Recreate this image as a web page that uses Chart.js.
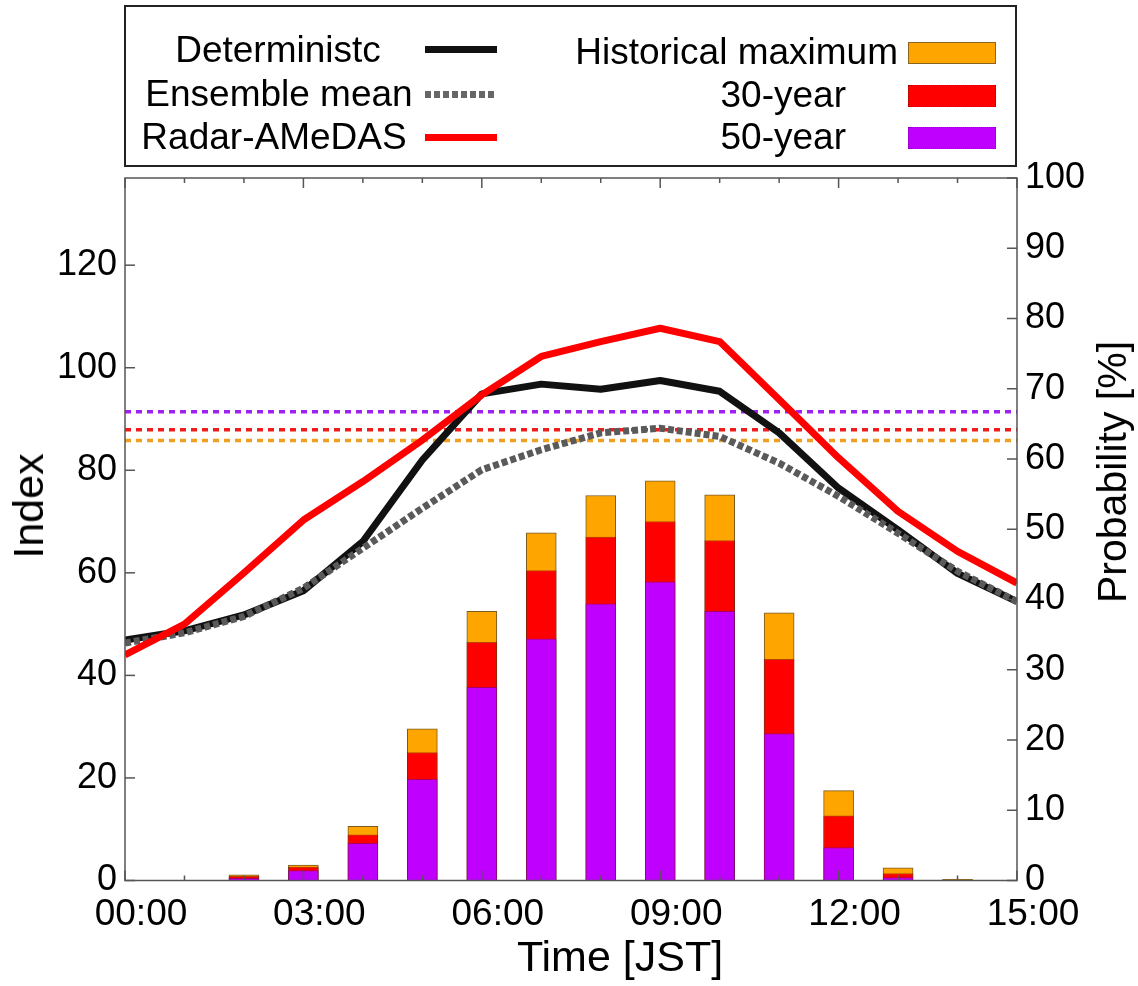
<!DOCTYPE html>
<html>
<head>
<meta charset="utf-8">
<script src="https://cdn.jsdelivr.net/npm/chart.js@4.4.0/dist/chart.umd.min.js"></script>
<style>
  body { margin: 0; background: #fff; }
  #wrap { position: relative; width: 1138px; height: 986px; font-family: "Liberation Sans", Arial, sans-serif; color: #000; }
  #legendBox { position: absolute; left: 124px; top: 5px; width: 889px; height: 158px; border: 2px solid #222; }
  .lab { position: absolute; font-size: 37px; line-height: 40px; white-space: nowrap; }
  .sw { position: absolute; }
  .title { position: absolute; font-size: 43px; line-height: 50px; white-space: nowrap; }
  canvas { position: absolute; left: 0; top: 0; }
</style>
</head>
<body>
<div id="wrap">
  <canvas id="myChart" width="1138" height="986"></canvas>

  <div id="legendBox"></div>
  <!-- left column: centred text -->
  <div class="lab" style="left:278px; top:30px; transform:translateX(-50%);">Deterministc</div>
  <div class="lab" style="left:279px; top:74px; transform:translateX(-50%);">Ensemble mean</div>
  <div class="lab" style="left:274px; top:117px; transform:translateX(-50%);">Radar-AMeDAS</div>
  <div class="sw" style="left:425px; top:46px; width:72px; height:7px; background:#111;"></div>
  <div class="sw" style="left:425px; top:91px; width:72px; height:7px; background:repeating-linear-gradient(90deg,#666 0 6px,transparent 6px 9px);"></div>
  <div class="sw" style="left:425px; top:134px; width:72px; height:7px; background:#f00;"></div>

  <div class="lab" style="right:240px; top:32px;">Historical maximum</div>
  <div class="lab" style="right:292px; top:75px;">30-year</div>
  <div class="lab" style="right:292px; top:117px;">50-year</div>
  <div class="sw" style="left:908px; top:42px; width:86px; height:20px; background:#ffa500; border:1px solid #8a6420;"></div>
  <div class="sw" style="left:908px; top:85px; width:86px; height:20px; background:#f00; border:1px dotted #900;"></div>
  <div class="sw" style="left:908px; top:127px; width:86px; height:20px; background:#c000ff; border:1px dotted #80a;"></div>

  <div class="title" style="left:28px; top:506px; transform:translate(-50%,-50%) rotate(-90deg);">Index</div>
  <div class="title" style="left:1112px; top:472px; font-size:41px; transform:translate(-50%,-50%) rotate(-90deg);">Probability [%]</div>
  <div class="title" style="left:620px; top:956px; transform:translate(-50%,-50%);">Time [JST]</div>
</div>

<script>
// data
const hours = [0, 1, 2, 3, 4, 5, 6, 7, 8, 9, 10, 11, 12, 13, 14, 15];
const xTickLabels = ["00:00", "03:00", "06:00", "09:00", "12:00", "15:00"];

const deterministic = [46.9, 48.7, 51.8, 56.5, 66.1, 82.0, 94.9, 96.8, 95.8, 97.5, 95.4, 87.3, 76.5, 68.4, 59.9, 54.4];
const ensembleMean = [46.3, 48.3, 51.5, 57.0, 64.8, 72.6, 80.1, 84.0, 87.3, 88.2, 86.6, 81.4, 74.9, 67.7, 60.3, 54.4];
const radarAmedas = [44.0, 50.0, 60.0, 70.3, 77.8, 85.9, 94.7, 102.2, 105.1, 107.7, 105.1, 93.8, 82.4, 72.0, 64.2, 58.0];

// thresholds (index)
const histMaxLevel = 85.8;
const year30Level = 87.9;
const year50Level = 91.4;

// probability of exceeding each threshold [%]
const probHistMax = [0, 0, 0.8, 2.2, 7.7, 21.6, 38.3, 49.5, 54.8, 56.9, 54.9, 38.1, 12.8, 1.8, 0.15, 0];
const prob30 = [0, 0, 0.6, 1.9, 6.5, 18.2, 33.9, 44.1, 48.9, 51.1, 48.4, 31.5, 9.2, 1.0, 0, 0];
const prob50 = [0, 0, 0.3, 1.4, 5.3, 14.4, 27.5, 34.4, 39.4, 42.5, 38.3, 20.9, 4.7, 0.4, 0, 0];

const FONT = "'Liberation Sans', Arial, sans-serif";

const pts = (arr) => hours.map((h, i) => ({ x: h, y: arr[i] }));
const flat = (v) => [{ x: hours[0], y: v }, { x: hours[hours.length - 1], y: v }];

const lineDs = (label, arr, color, extra) => Object.assign({
  type: "line",
  label,
  data: pts(arr),
  yAxisID: "y",
  borderColor: color,
  borderWidth: 7,
  pointRadius: 0,
  tension: 0,
  borderJoinStyle: "round",
}, extra || {});

const levelDs = (label, v, color) => ({
  type: "line",
  label,
  data: flat(v),
  yAxisID: "y",
  borderColor: color,
  borderWidth: 3.5,
  borderDash: [6, 5],
  pointRadius: 0,
});

const barDs = (label, arr, color, border) => ({
  type: "bar",
  label,
  data: pts(arr),
  yAxisID: "y1",
  backgroundColor: color,
  borderColor: border,
  borderWidth: 1,
  borderSkipped: "bottom",
  barThickness: 30,
  grouped: false,
});

// inward ticks + frame, like the gnuplot box
const frameTicks = {
  id: "frameTicks",
  afterDraw(chart) {
    const { ctx, chartArea: a, scales } = chart;
    const seg = (x1, y1, x2, y2) => { ctx.beginPath(); ctx.moveTo(x1, y1); ctx.lineTo(x2, y2); ctx.stroke(); };
    ctx.save();
    ctx.strokeStyle = "#555";
    ctx.lineWidth = 1.5;
    ctx.strokeRect(a.left, a.top, a.right - a.left, a.bottom - a.top);
    hours.forEach((h) => {
      const px = scales.x.getPixelForValue(h);
      const len = h % 3 === 0 ? 10 : 5;
      seg(px, a.bottom, px, a.bottom - len);
      seg(px, a.top, px, a.top + len);
    });
    scales.y.ticks.forEach((t) => {
      const py = scales.y.getPixelForValue(t.value);
      seg(a.left, py, a.left + 10, py);
    });
    scales.y1.ticks.forEach((t) => {
      const py = scales.y1.getPixelForValue(t.value);
      seg(a.right, py, a.right - 10, py);
    });
    ctx.restore();
  },
};

const config = {
  type: "line",
  data: {
    datasets: [
      lineDs("Radar-AMeDAS", radarAmedas, "#ff0000"),
      lineDs("Ensemble mean", ensembleMean, "#5a5a5a", { borderDash: [6, 3], borderJoinStyle: "miter" }),
      lineDs("Deterministc", deterministic, "#111111"),
      levelDs("50-year level", year50Level, "#a020f0"),
      levelDs("30-year level", year30Level, "#ee1c1c"),
      levelDs("Historical maximum level", histMaxLevel, "#f0a020"),
      barDs("50-year", prob50, "#c000ff", "rgba(120,0,160,0.6)"),
      barDs("30-year", prob30, "#ff0000", "rgba(140,0,0,0.6)"),
      barDs("Historical maximum", probHistMax, "#ffa500", "#7a5a20"),
    ],
  },
  options: {
    responsive: false,
    animation: false,
    layout: { padding: { top: 178, left: 0, right: 0, bottom: 0 } },
    plugins: { legend: { display: false }, tooltip: { enabled: false } },
    scales: {
      x: {
        type: "linear",
        min: 0,
        max: 15,
        offset: false,
        afterFit: (s) => { s.height = 105.5; },
        grid: { display: false, drawTicks: false },
        border: { display: false },
        ticks: {
          stepSize: 3,
          autoSkip: false,
          maxRotation: 0,
          padding: 12,
          labelOffset: 16,
          color: "#000",
          font: { family: FONT, size: 37 },
          callback: (v) => xTickLabels[v / 3],
        },
      },
      y: {
        position: "left",
        min: 0,
        max: 137,
        afterFit: (s) => { s.width = 125; },
        grid: { display: false, drawTicks: false },
        border: { display: false },
        ticks: {
          stepSize: 20,
          includeBounds: false,
          padding: 8,
          color: "#000",
          font: { family: FONT, size: 36 },
        },
      },
      y1: {
        position: "right",
        min: 0,
        max: 100,
        afterFit: (s) => { s.width = 121; },
        grid: { display: false, drawTicks: false },
        border: { display: false },
        ticks: {
          stepSize: 10,
          padding: 8,
          color: "#000",
          font: { family: FONT, size: 36 },
        },
      },
    },
  },
  plugins: [frameTicks],
};

const myChart = new Chart(document.getElementById("myChart"), config);
</script>
</body>
</html>
